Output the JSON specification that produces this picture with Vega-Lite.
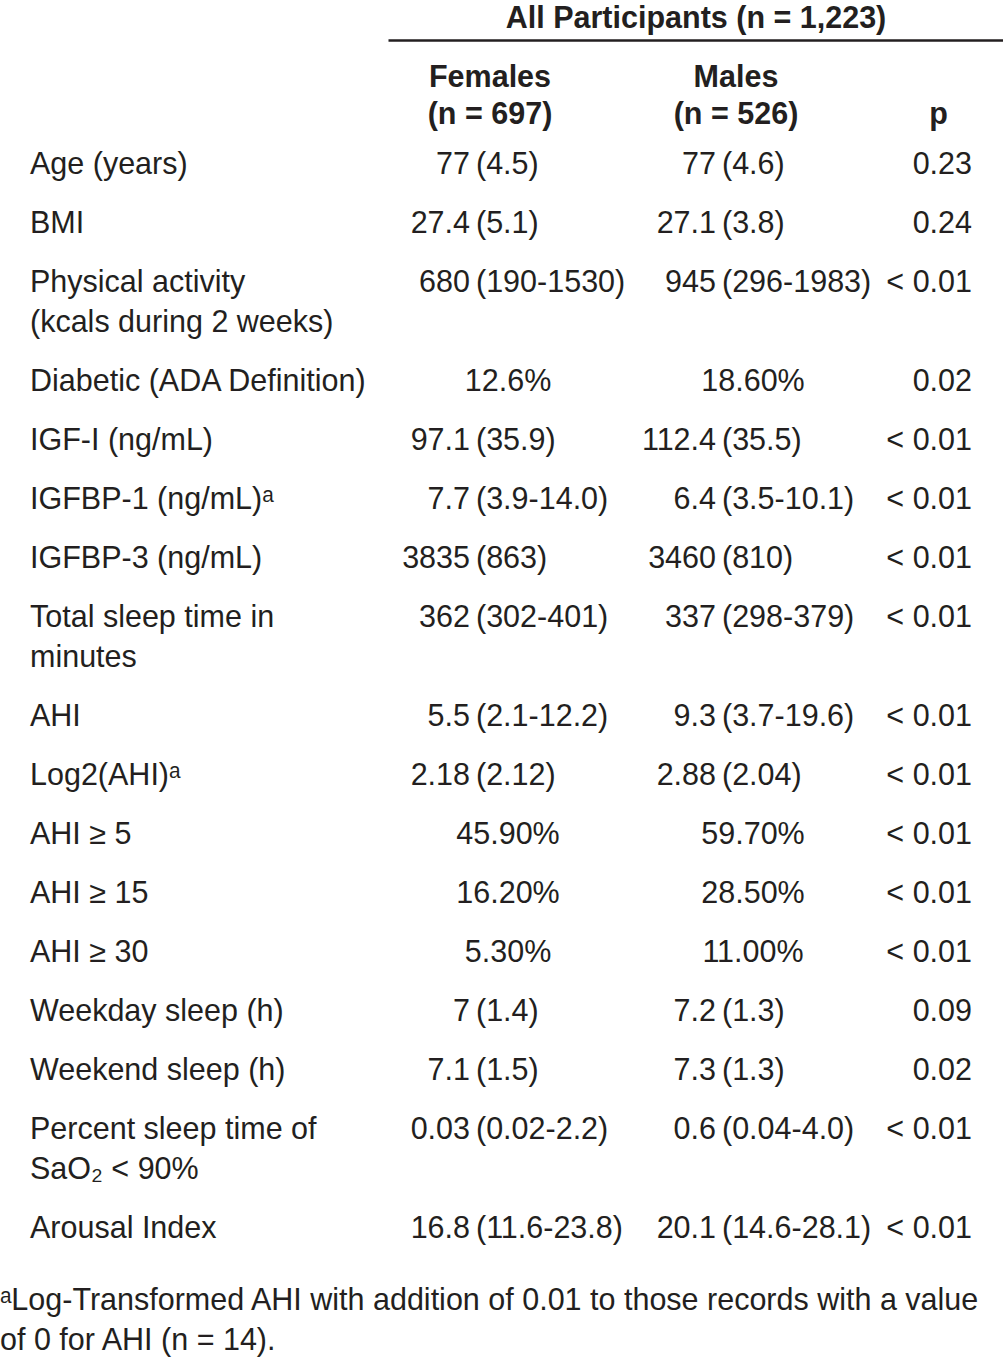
{
  "$schema": "https://vega.github.io/schema/vega-lite/v6.json",
  "padding": 0,
  "background": "white",
  "spacing": 0,
  "bounds": "full",
  "resolve": {"scale": {"x": "independent", "y": "independent"}},
  "config": {
    "view": {"stroke": null},
    "text": {"font": "Liberation Sans, Arial, sans-serif", "fontSize": 30.5, "color": "#231f20", "baseline": "middle", "dy": 1.5}
  },
  "vconcat": [
    {
      "width": 1003,
      "height": 134,
      "data": {"values": [
        {"c": "F", "l": 1, "t": "Females"},
        {"c": "F", "l": 2, "t": "(n = 697)"},
        {"c": "M", "l": 1, "t": "Males"},
        {"c": "M", "l": 2, "t": "(n = 526)"},
        {"c": "P", "l": 2, "t": "p"}
      ]},
      "encoding": {
        "x": {"field": "c", "type": "nominal",
              "scale": {"type": "point", "domain": ["F", "M", "P"], "range": [388, 1003], "padding": 0.25, "align": 0.7317},
              "axis": {"orient": "top", "offset": -40, "title": "All Participants (n = 1,223)", "titleFont": "Liberation Sans, Arial, sans-serif", "titleFontSize": 30.5, "titleFontWeight": "bold", "titleColor": "#231f20", "titlePadding": 6.5, "labels": false, "ticks": false, "grid": false, "domain": true, "domainColor": "#231f20", "domainWidth": 2.5}},
        "y": {"field": "l", "type": "ordinal", "axis": null, "scale": {"type": "point", "domain": [1, 2], "range": [76, 113], "padding": 0}},
        "text": {"field": "t"}
      },
      "layer": [
        {"transform": [{"filter": {"field": "c", "oneOf": ["F", "M"]}}], "mark": {"type": "text", "fontWeight": "bold", "align": "center", "dx": 12}},
        {"transform": [{"filter": {"field": "c", "equal": "P"}}], "mark": {"type": "text", "fontWeight": "bold", "align": "center", "dx": -31.5}}
      ]
    },
    {
      "data": {"values": [
        {"row": "Age (years)", "line": 1, "label": "Age (years)", "f": "77", "fd": "(4.5)", "fp": "", "m": "77", "md": "(4.6)", "mp": "", "p": "0.23"},
        {"row": "BMI", "line": 1, "label": "BMI", "f": "27.4", "fd": "(5.1)", "fp": "", "m": "27.1", "md": "(3.8)", "mp": "", "p": "0.24"},
        {"row": "Physical activity (kcals during 2 weeks)", "line": 1, "label": "Physical activity", "f": "680", "fd": "(190-1530)", "fp": "", "m": "945", "md": "(296-1983)", "mp": "", "p": "< 0.01"},
        {"row": "Physical activity (kcals during 2 weeks)", "line": 2, "label": "(kcals during 2 weeks)", "f": "", "fd": "", "fp": "", "m": "", "md": "", "mp": "", "p": ""},
        {"row": "Diabetic (ADA Definition)", "line": 1, "label": "Diabetic (ADA Definition)", "f": "", "fd": "", "fp": "12.6%", "m": "", "md": "", "mp": "18.60%", "p": "0.02"},
        {"row": "IGF-I (ng/mL)", "line": 1, "label": "IGF-I (ng/mL)", "f": "97.1", "fd": "(35.9)", "fp": "", "m": "112.4", "md": "(35.5)", "mp": "", "p": "< 0.01"},
        {"row": "IGFBP-1 (ng/mL)", "line": 1, "label": "IGFBP-1 (ng/mL)ᵃ", "f": "7.7", "fd": "(3.9-14.0)", "fp": "", "m": "6.4", "md": "(3.5-10.1)", "mp": "", "p": "< 0.01"},
        {"row": "IGFBP-3 (ng/mL)", "line": 1, "label": "IGFBP-3 (ng/mL)", "f": "3835", "fd": "(863)", "fp": "", "m": "3460", "md": "(810)", "mp": "", "p": "< 0.01"},
        {"row": "Total sleep time in minutes", "line": 1, "label": "Total sleep time in", "f": "362", "fd": "(302-401)", "fp": "", "m": "337", "md": "(298-379)", "mp": "", "p": "< 0.01"},
        {"row": "Total sleep time in minutes", "line": 2, "label": "minutes", "f": "", "fd": "", "fp": "", "m": "", "md": "", "mp": "", "p": ""},
        {"row": "AHI", "line": 1, "label": "AHI", "f": "5.5", "fd": "(2.1-12.2)", "fp": "", "m": "9.3", "md": "(3.7-19.6)", "mp": "", "p": "< 0.01"},
        {"row": "Log2(AHI)", "line": 1, "label": "Log2(AHI)ᵃ", "f": "2.18", "fd": "(2.12)", "fp": "", "m": "2.88", "md": "(2.04)", "mp": "", "p": "< 0.01"},
        {"row": "AHI ≥ 5", "line": 1, "label": "AHI ≥ 5", "f": "", "fd": "", "fp": "45.90%", "m": "", "md": "", "mp": "59.70%", "p": "< 0.01"},
        {"row": "AHI ≥ 15", "line": 1, "label": "AHI ≥ 15", "f": "", "fd": "", "fp": "16.20%", "m": "", "md": "", "mp": "28.50%", "p": "< 0.01"},
        {"row": "AHI ≥ 30", "line": 1, "label": "AHI ≥ 30", "f": "", "fd": "", "fp": "5.30%", "m": "", "md": "", "mp": "11.00%", "p": "< 0.01"},
        {"row": "Weekday sleep (h)", "line": 1, "label": "Weekday sleep (h)", "f": "7", "fd": "(1.4)", "fp": "", "m": "7.2", "md": "(1.3)", "mp": "", "p": "0.09"},
        {"row": "Weekend sleep (h)", "line": 1, "label": "Weekend sleep (h)", "f": "7.1", "fd": "(1.5)", "fp": "", "m": "7.3", "md": "(1.3)", "mp": "", "p": "0.02"},
        {"row": "Percent sleep time of SaO2 < 90%", "line": 1, "label": "Percent sleep time of", "f": "0.03", "fd": "(0.02-2.2)", "fp": "", "m": "0.6", "md": "(0.04-4.0)", "mp": "", "p": "< 0.01"},
        {"row": "Percent sleep time of SaO2 < 90%", "line": 2, "label": "SaO₂ < 90%", "f": "", "fd": "", "fp": "", "m": "", "md": "", "mp": "", "p": ""},
        {"row": "Arousal Index", "line": 1, "label": "Arousal Index", "f": "16.8", "fd": "(11.6-23.8)", "fp": "", "m": "20.1", "md": "(14.6-28.1)", "mp": "", "p": "< 0.01"}
      ]},
      "facet": {"row": {"field": "row", "type": "nominal", "header": null,
        "sort": ["Age (years)", "BMI", "Physical activity (kcals during 2 weeks)", "Diabetic (ADA Definition)", "IGF-I (ng/mL)", "IGFBP-1 (ng/mL)", "IGFBP-3 (ng/mL)", "Total sleep time in minutes", "AHI", "Log2(AHI)", "AHI ≥ 5", "AHI ≥ 15", "AHI ≥ 30", "Weekday sleep (h)", "Weekend sleep (h)", "Percent sleep time of SaO2 < 90%", "Arousal Index"]}},
      "spacing": 0,
      "align": "each",
      "bounds": "flush",
      "resolve": {"scale": {"y": "independent"}},
      "spec": {
        "width": 1003,
        "height": {"step": 40},
        "encoding": {
          "y": {"field": "line", "type": "ordinal", "axis": null, "scale": {"type": "point", "padding": 0.7375}}
        },
        "layer": [
          {"mark": {"type": "text", "align": "left", "dx": -202},
           "encoding": {"x": {"datum": "L", "type": "nominal", "axis": null, "scale": {"type": "point", "domain": ["L", "F", "M", "P"], "range": [232, 970], "padding": 0}}, "text": {"field": "label"}}},
          {"mark": {"type": "text", "align": "right", "dx": -8},
           "encoding": {"x": {"datum": "F", "type": "nominal"}, "text": {"field": "f"}}},
          {"mark": {"type": "text", "align": "left", "dx": -2},
           "encoding": {"x": {"datum": "F", "type": "nominal"}, "text": {"field": "fd"}}},
          {"mark": {"type": "text", "align": "center", "dx": 30},
           "encoding": {"x": {"datum": "F", "type": "nominal"}, "text": {"field": "fp"}}},
          {"mark": {"type": "text", "align": "right", "dx": -8},
           "encoding": {"x": {"datum": "M", "type": "nominal"}, "text": {"field": "m"}}},
          {"mark": {"type": "text", "align": "left", "dx": -2},
           "encoding": {"x": {"datum": "M", "type": "nominal"}, "text": {"field": "md"}}},
          {"mark": {"type": "text", "align": "center", "dx": 29},
           "encoding": {"x": {"datum": "M", "type": "nominal"}, "text": {"field": "mp"}}},
          {"mark": {"type": "text", "align": "right", "dx": 2},
           "encoding": {"x": {"datum": "P", "type": "nominal"}, "text": {"field": "p"}}}
        ]
      }
    },
    {
      "width": 1003,
      "height": 105,
      "data": {"values": [
        {"l": 1, "t": "ᵃLog-Transformed AHI with addition of 0.01 to those records with a value"},
        {"l": 2, "t": "of 0 for AHI (n = 14)."}
      ]},
      "mark": {"type": "text", "align": "left"},
      "encoding": {
        "x": {"datum": "note", "type": "nominal", "axis": null, "scale": {"type": "point", "align": 0}},
        "y": {"field": "l", "type": "ordinal", "axis": null, "scale": {"type": "point", "padding": 0.8125, "align": 0.6615}},
        "text": {"field": "t"}
      }
    }
  ]
}
